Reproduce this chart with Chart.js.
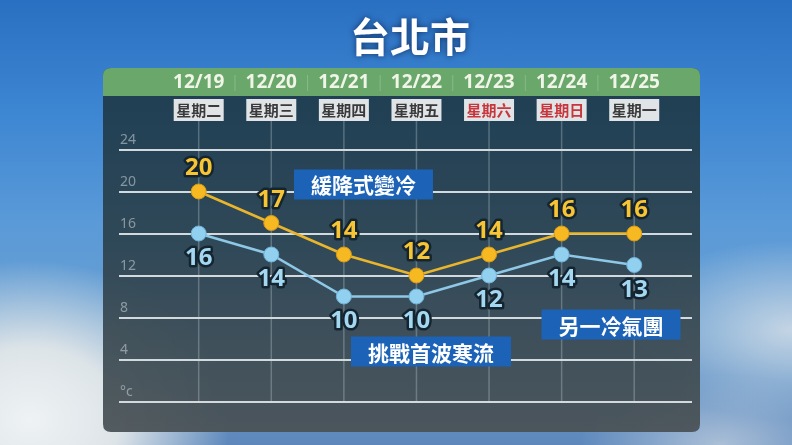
<!DOCTYPE html>
<html>
<head>
<meta charset="utf-8">
<script src="https://cdn.jsdelivr.net/npm/chart.js@4/dist/chart.umd.min.js"></script>
<style>
  html, body { margin: 0; padding: 0; }
  body {
    width: 792px; height: 445px; overflow: hidden;
    background:
      radial-gradient(ellipse 200px 160px at 30px 420px, #eef2f4 0%, #dde4e8 45%, rgba(210,222,230,0) 100%),
      radial-gradient(ellipse 160px 90px at 790px 330px, rgba(205,218,230,0.9) 0%, rgba(205,218,230,0) 100%),
      radial-gradient(ellipse 140px 70px at 720px 445px, rgba(190,205,222,0.8) 0%, rgba(190,205,222,0) 100%),
      linear-gradient(180deg, #2a70c2 0%, #3d86d2 25%, #5a9ad8 50%, #6a9fd0 75%, #5e88bc 100%);
  }
  #wrap { position: absolute; left: 0; top: 0; width: 792px; height: 445px; }
</style>
</head>
<body>
<div id="wrap"><canvas id="tempChart"></canvas></div>
<script>
// 台北市 一週氣溫
var dates = ['12/19', '12/20', '12/21', '12/22', '12/23', '12/24', '12/25'];
var weekdays = ['星期二', '星期三', '星期四', '星期五', '星期六', '星期日', '星期一'];
var weekend = [false, false, false, false, true, true, false];
var highs = [20, 17, 14, 12, 14, 16, 16];
var lows = [16, 14, 10, 10, 12, 14, 13];
var yTicks = [0, 4, 8, 12, 16, 20, 24];
var notes = ['緩降式變冷', '挑戰首波寒流', '另一冷氣團'];

var CJK = '"Noto Sans CJK TC", "Noto Sans", sans-serif';

function rrect(ctx, x, y, w, h, r) {
  ctx.beginPath();
  ctx.moveTo(x + r, y);
  ctx.lineTo(x + w - r, y);
  ctx.quadraticCurveTo(x + w, y, x + w, y + r);
  ctx.lineTo(x + w, y + h - r);
  ctx.quadraticCurveTo(x + w, y + h, x + w - r, y + h);
  ctx.lineTo(x + r, y + h);
  ctx.quadraticCurveTo(x, y + h, x, y + h - r);
  ctx.lineTo(x, y + r);
  ctx.quadraticCurveTo(x, y, x + r, y);
  ctx.closePath();
}

// panel, header, title, vertical lines
var backdrop = {
  id: 'backdrop',
  beforeDraw: function(chart) {
    var ctx = chart.ctx, xs = chart.scales.x, ys = chart.scales.y;
    ctx.save();
    // title
    ctx.font = 'bold 40px ' + CJK;
    ctx.textAlign = 'center';
    ctx.textBaseline = 'middle';
    ctx.shadowColor = 'rgba(0,20,60,0.7)';
    ctx.shadowBlur = 6;
    ctx.fillStyle = '#ffffff';
    ctx.fillText('台北市', 410, 37);
    ctx.shadowBlur = 0;

    // panel
    var g = ctx.createLinearGradient(0, 68, 0, 432);
    g.addColorStop(0, 'rgba(28,58,76,0.95)');
    g.addColorStop(0.5, 'rgba(46,68,80,0.94)');
    g.addColorStop(1, 'rgba(74,82,86,0.94)');
    ctx.fillStyle = g;
    rrect(ctx, 103, 68, 597, 364, 8);
    ctx.fill();

    // green header
    ctx.save();
    rrect(ctx, 103, 68, 597, 364, 8);
    ctx.clip();
    ctx.fillStyle = '#69a76b';
    ctx.fillRect(103, 68, 597, 28);
    ctx.restore();

    ctx.font = 'bold 19px "Noto Sans", sans-serif';
    for (var i = 0; i < dates.length; i++) {
      var px = xs.getPixelForValue(i);
      ctx.fillStyle = '#f1f5e8';
      ctx.fillText(dates[i], px, 83);
      if (i < dates.length - 1) {
        var mx = xs.getPixelForValue(i + 0.5);
        ctx.strokeStyle = 'rgba(255,255,255,0.22)';
        ctx.lineWidth = 1;
        ctx.beginPath();
        ctx.moveTo(mx, 75);
        ctx.lineTo(mx, 91);
        ctx.stroke();
      }
    }

    // vertical day lines
    var bottom = ys.getPixelForValue(0);
    ctx.strokeStyle = 'rgba(220,230,235,0.28)';
    ctx.lineWidth = 1.5;
    for (var j = 0; j < dates.length; j++) {
      var vx = xs.getPixelForValue(j);
      ctx.beginPath();
      ctx.moveTo(vx, 121);
      ctx.lineTo(vx, bottom);
      ctx.stroke();
    }

    // weekday boxes
    ctx.font = 'bold 15px ' + CJK;
    for (var k = 0; k < weekdays.length; k++) {
      var bx = xs.getPixelForValue(k);
      ctx.fillStyle = '#e0e4e6';
      ctx.fillRect(bx - 25, 99, 50, 22);
      ctx.fillStyle = weekend[k] ? '#c8363c' : '#3a3a3a';
      ctx.fillText(weekdays[k], bx, 110.5);
    }
    ctx.restore();
  }
};

// value labels and note boxes
var labels = {
  id: 'labels',
  afterDatasetsDraw: function(chart) {
    var ctx = chart.ctx, xs = chart.scales.x, ys = chart.scales.y;
    ctx.save();
    ctx.textAlign = 'center';
    ctx.textBaseline = 'middle';
    ctx.font = 'bold 24px "Noto Sans", sans-serif';
    ctx.lineJoin = 'round';
    var sets = [{ i: 0, dy: -23, fill: '#f7c433' }, { i: 1, dy: 25, fill: '#a4d8f2' }];
    sets.forEach(function(s) {
      var meta = chart.getDatasetMeta(s.i);
      var vals = chart.data.datasets[s.i].data;
      meta.data.forEach(function(pt, n) {
        var t = String(vals[n].y);
        ctx.lineWidth = 5;
        ctx.strokeStyle = '#152530';
        ctx.strokeText(t, pt.x, pt.y + s.dy);
        ctx.fillStyle = s.fill;
        ctx.fillText(t, pt.x, pt.y + s.dy);
      });
    });

    // note boxes, anchored in data coordinates
    var spots = [[2.27, 20.67], [3.2, 4.76], [5.68, 7.33]];
    ctx.font = 'bold 21px ' + CJK;
    notes.forEach(function(txt, n) {
      var cx = xs.getPixelForValue(spots[n][0]);
      var cy = ys.getPixelForValue(spots[n][1]);
      var w = ctx.measureText(txt).width + 34;
      ctx.fillStyle = '#1c63b7';
      ctx.fillRect(cx - w / 2, cy - 15, w, 30);
      ctx.fillStyle = '#ffffff';
      ctx.fillText(txt, cx, cy + 1);
    });
    ctx.restore();
  }
};

var ctx = document.getElementById('tempChart').getContext('2d');
var myChart = new Chart(ctx, {
  type: 'line',
  data: {
    datasets: [{
      label: '高溫',
      data: highs.map(function(v, i) { return { x: i, y: v }; }),
      borderColor: '#e9b52c',
      borderWidth: 2.5,
      pointBackgroundColor: '#f6b922',
      pointBorderColor: '#d99a12',
      pointBorderWidth: 1,
      pointRadius: 7.5,
      tension: 0
    }, {
      label: '低溫',
      data: lows.map(function(v, i) { return { x: i, y: v }; }),
      borderColor: '#8ec8e6',
      borderWidth: 2.5,
      pointBackgroundColor: '#92d0f0',
      pointBorderColor: '#6fb2d8',
      pointBorderWidth: 1,
      pointRadius: 7.5,
      tension: 0
    }]
  },
  options: {
    responsive: true,
    maintainAspectRatio: false,
    animation: false,
    layout: { padding: { left: 117, right: 100, top: 149.5, bottom: 43.5 } },
    plugins: { legend: { display: false }, tooltip: { enabled: false } },
    scales: {
      x: {
        type: 'linear',
        display: false,
        min: -1.098,
        max: 6.796
      },
      y: {
        min: 0,
        max: 24,
        afterBuildTicks: function(axis) {
          axis.ticks = yTicks.map(function(v) { return { value: v }; });
        },
        border: { display: false },
        grid: { color: '#d3dade', lineWidth: 2, drawTicks: false },
        ticks: {
          mirror: true,
          padding: 1,
          labelOffset: -9,
          color: 'rgba(195,205,210,0.6)',
          font: { size: 14, family: '"Noto Sans", sans-serif' },
          callback: function(v) { return v === 0 ? '°c' : String(v); }
        }
      }
    }
  },
  plugins: [backdrop, labels]
});
</script>
</body>
</html>
